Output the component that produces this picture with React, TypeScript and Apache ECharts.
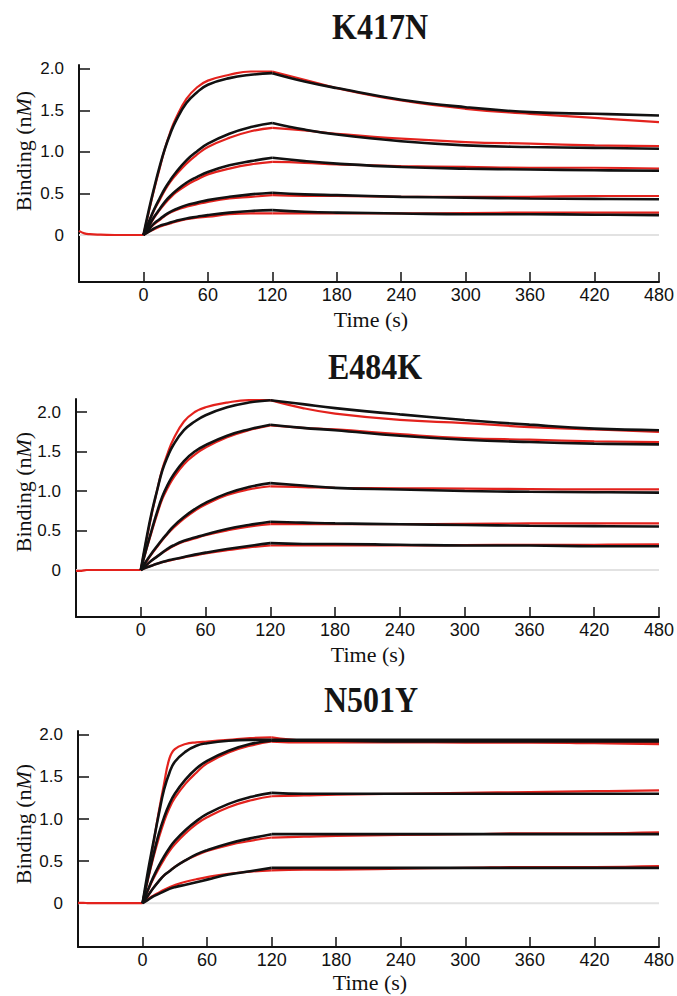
import React, { useEffect, useRef } from "react";
import * as echarts from "echarts";

// ---------- data ----------
const BASE_T = [-60, -55, -50, -40, -20, 0];
const ASSOC_T = [0, 5, 10, 15, 20, 25, 30, 40, 50, 60, 80, 100, 120];
const DISSOC_T = [120, 150, 180, 240, 300, 360, 420, 480];
const Y_TICKS = [0, 0.5, 1.0, 1.5, 2.0];
const X_TICK_STEP = 60;
const TITLES = ["K417N", "E484K", "N501Y"];

// K417N
const K417N_BASE = [0.05, 0.02, 0.01, 0.005, 0, 0];
const K417N_FIT_ASSOC = [
  [0, 0.30, 0.57, 0.82, 1.04, 1.22, 1.37, 1.59, 1.72, 1.81, 1.89, 1.93, 1.95],
  [0, 0.16, 0.31, 0.44, 0.56, 0.66, 0.75, 0.90, 1.01, 1.10, 1.22, 1.30, 1.35],
  [0, 0.11, 0.22, 0.31, 0.40, 0.47, 0.53, 0.63, 0.70, 0.76, 0.84, 0.89, 0.93],
  [0, 0.07, 0.14, 0.19, 0.24, 0.28, 0.31, 0.36, 0.39, 0.42, 0.46, 0.49, 0.51],
  [0, 0.04, 0.08, 0.11, 0.13, 0.15, 0.17, 0.20, 0.22, 0.24, 0.27, 0.29, 0.30],
];
const K417N_DATA_ASSOC = [
  [0, 0.28, 0.55, 0.80, 1.04, 1.24, 1.40, 1.64, 1.78, 1.86, 1.93, 1.97, 1.97],
  [0, 0.15, 0.30, 0.42, 0.54, 0.64, 0.72, 0.86, 0.97, 1.06, 1.17, 1.25, 1.29],
  [0, 0.10, 0.21, 0.30, 0.38, 0.45, 0.51, 0.60, 0.67, 0.73, 0.80, 0.85, 0.88],
  [0, 0.07, 0.13, 0.18, 0.23, 0.27, 0.30, 0.34, 0.37, 0.40, 0.44, 0.46, 0.48],
  [0, 0.04, 0.07, 0.10, 0.12, 0.14, 0.16, 0.19, 0.21, 0.22, 0.25, 0.26, 0.26],
];
const K417N_FIT_DISSOC = [
  [1.95, 1.85, 1.77, 1.63, 1.54, 1.48, 1.46, 1.44],
  [1.35, 1.27, 1.21, 1.13, 1.08, 1.06, 1.05, 1.04],
  [0.93, 0.89, 0.86, 0.82, 0.80, 0.79, 0.78, 0.775],
  [0.51, 0.49, 0.48, 0.46, 0.45, 0.44, 0.435, 0.43],
  [0.30, 0.28, 0.27, 0.26, 0.25, 0.25, 0.245, 0.24],
];
const K417N_DATA_DISSOC = [
  [1.97, 1.87, 1.77, 1.62, 1.52, 1.46, 1.41, 1.36],
  [1.29, 1.26, 1.22, 1.16, 1.12, 1.10, 1.08, 1.07],
  [0.88, 0.87, 0.85, 0.83, 0.82, 0.81, 0.81, 0.80],
  [0.48, 0.47, 0.47, 0.46, 0.46, 0.46, 0.47, 0.47],
  [0.26, 0.26, 0.26, 0.26, 0.265, 0.27, 0.27, 0.27],
];

// E484K
const E484K_BASE = [-0.01, -0.01, 0, 0, 0, 0];
const E484K_FIT_ASSOC = [
  [0, 0.38, 0.72, 1.00, 1.26, 1.44, 1.58, 1.77, 1.88, 1.96, 2.06, 2.12, 2.15],
  [0, 0.26, 0.50, 0.73, 0.93, 1.08, 1.20, 1.38, 1.50, 1.58, 1.70, 1.78, 1.84],
  [0, 0.11, 0.21, 0.30, 0.39, 0.47, 0.55, 0.67, 0.77, 0.85, 0.97, 1.05, 1.10],
  [0, 0.06, 0.12, 0.17, 0.22, 0.27, 0.31, 0.37, 0.41, 0.45, 0.52, 0.57, 0.61],
  [0, 0.03, 0.055, 0.08, 0.10, 0.12, 0.135, 0.165, 0.195, 0.22, 0.265, 0.305, 0.34],
];
const E484K_DATA_ASSOC = [
  [0, 0.36, 0.70, 1.00, 1.28, 1.48, 1.65, 1.88, 2.00, 2.06, 2.12, 2.15, 2.15],
  [0, 0.25, 0.48, 0.70, 0.90, 1.04, 1.16, 1.34, 1.46, 1.55, 1.68, 1.77, 1.83],
  [0, 0.10, 0.20, 0.29, 0.38, 0.46, 0.53, 0.65, 0.75, 0.83, 0.95, 1.02, 1.06],
  [0, 0.06, 0.12, 0.17, 0.22, 0.26, 0.30, 0.36, 0.40, 0.44, 0.50, 0.55, 0.58],
  [0, 0.03, 0.055, 0.08, 0.10, 0.115, 0.13, 0.16, 0.185, 0.21, 0.25, 0.285, 0.31],
];
const E484K_FIT_DISSOC = [
  [2.15, 2.10, 2.05, 1.97, 1.90, 1.84, 1.79, 1.77],
  [1.84, 1.80, 1.77, 1.70, 1.65, 1.62, 1.60, 1.59],
  [1.10, 1.07, 1.04, 1.02, 1.00, 0.99, 0.985, 0.98],
  [0.61, 0.60, 0.59, 0.58, 0.57, 0.56, 0.555, 0.55],
  [0.34, 0.33, 0.33, 0.32, 0.31, 0.31, 0.30, 0.30],
];
const E484K_DATA_DISSOC = [
  [2.15, 2.05, 1.98, 1.90, 1.86, 1.81, 1.78, 1.75],
  [1.83, 1.80, 1.78, 1.72, 1.67, 1.65, 1.63, 1.62],
  [1.06, 1.05, 1.04, 1.035, 1.03, 1.025, 1.02, 1.02],
  [0.58, 0.58, 0.58, 0.58, 0.585, 0.59, 0.59, 0.59],
  [0.31, 0.31, 0.31, 0.31, 0.315, 0.32, 0.32, 0.325],
];

// N501Y
const N501Y_BASE = [0.005, 0.005, 0, 0, 0, 0];
const N501Y_FIT_ASSOC = [
  [0, 0.38, 0.72, 1.05, 1.35, 1.55, 1.68, 1.80, 1.87, 1.90, 1.93, 1.94, 1.94],
  [0, 0.30, 0.57, 0.82, 1.02, 1.18, 1.30, 1.47, 1.60, 1.69, 1.81, 1.89, 1.93],
  [0, 0.16, 0.31, 0.44, 0.555, 0.655, 0.74, 0.87, 0.975, 1.06, 1.18, 1.26, 1.31],
  [0, 0.09, 0.18, 0.26, 0.33, 0.38, 0.43, 0.51, 0.58, 0.63, 0.71, 0.77, 0.82],
  [0, 0.04, 0.08, 0.11, 0.14, 0.17, 0.19, 0.22, 0.25, 0.28, 0.34, 0.38, 0.42],
];
const N501Y_DATA_ASSOC = [
  [0, 0.33, 0.70, 1.08, 1.42, 1.72, 1.83, 1.89, 1.91, 1.92, 1.94, 1.96, 1.97],
  [0, 0.28, 0.54, 0.77, 0.97, 1.13, 1.25, 1.42, 1.55, 1.66, 1.79, 1.87, 1.92],
  [0, 0.15, 0.29, 0.41, 0.52, 0.62, 0.70, 0.83, 0.94, 1.02, 1.14, 1.22, 1.27],
  [0, 0.09, 0.18, 0.26, 0.33, 0.38, 0.43, 0.51, 0.57, 0.62, 0.69, 0.74, 0.78],
  [0, 0.05, 0.09, 0.125, 0.16, 0.19, 0.215, 0.255, 0.285, 0.31, 0.35, 0.375, 0.39],
];
const N501Y_FIT_DISSOC = [
  [1.94, 1.94, 1.94, 1.94, 1.94, 1.94, 1.94, 1.94],
  [1.93, 1.93, 1.93, 1.92, 1.92, 1.92, 1.92, 1.92],
  [1.31, 1.30, 1.30, 1.30, 1.30, 1.30, 1.30, 1.30],
  [0.82, 0.82, 0.82, 0.82, 0.82, 0.82, 0.82, 0.82],
  [0.42, 0.42, 0.42, 0.42, 0.42, 0.42, 0.42, 0.42],
];
const N501Y_DATA_DISSOC = [
  [1.97, 1.93, 1.92, 1.92, 1.91, 1.91, 1.90, 1.89],
  [1.92, 1.91, 1.91, 1.91, 1.91, 1.91, 1.91, 1.91],
  [1.27, 1.28, 1.29, 1.30, 1.31, 1.32, 1.33, 1.34],
  [0.78, 0.79, 0.80, 0.81, 0.82, 0.83, 0.83, 0.84],
  [0.39, 0.40, 0.40, 0.41, 0.42, 0.43, 0.43, 0.44],
];

const PANELS = [
  { base: K417N_BASE, fitA: K417N_FIT_ASSOC, dataA: K417N_DATA_ASSOC, fitD: K417N_FIT_DISSOC, dataD: K417N_DATA_DISSOC },
  { base: E484K_BASE, fitA: E484K_FIT_ASSOC, dataA: E484K_DATA_ASSOC, fitD: E484K_FIT_DISSOC, dataD: E484K_DATA_DISSOC },
  { base: N501Y_BASE, fitA: N501Y_FIT_ASSOC, dataA: N501Y_DATA_ASSOC, fitD: N501Y_FIT_DISSOC, dataD: N501Y_DATA_DISSOC },
];

// ---------- layout (pixels) ----------
const LAYOUT = [
  { left: 79, top: 65, height: 217, yMin: -0.566, yMax: 2.048, titleX: 380, titleY: 27, nameY: 151, timeY: 319 },
  { left: 76, top: 399, height: 218, yMin: -0.595, yMax: 2.165, titleX: 375, titleY: 367, nameY: 492, timeY: 654 },
  { left: 78, top: 731, height: 216, yMin: -0.52, yMax: 2.045, titleX: 371, titleY: 700, nameY: 824, timeY: 982 },
];
const PLOT_W = 584;
const RED = "#e3221d";
const BLACK = "#111111";
const AXIS_COLOR = "#111111";
const SMOOTH = 0.45;

function pairs(ts: number[], vs: number[]) {
  return ts.map((t, i) => [t, vs[i]]);
}

function buildOption() {
  const grid: any[] = [];
  const xAxis: any[] = [];
  const yAxis: any[] = [];
  const series: any[] = [];
  const graphic: any[] = [];

  LAYOUT.forEach((L, i) => {
    const P = PANELS[i];
    grid.push({ left: L.left, top: L.top, width: PLOT_W, height: L.height });
    xAxis.push({
      type: "value",
      gridIndex: i,
      min: -60,
      max: 480,
      interval: X_TICK_STEP,
      axisLine: { show: true, onZero: false, lineStyle: { color: AXIS_COLOR, width: 2 } },
      axisTick: { show: true, inside: true, length: 10, lineStyle: { color: AXIS_COLOR, width: 1.5 } },
      axisLabel: {
        show: true,
        formatter: (v: number) => (v < 0 ? "" : String(v)),
        color: AXIS_COLOR,
        fontSize: 18,
        fontFamily: "Liberation Sans",
        margin: 4,
      },
      splitLine: { show: false },
    });
    yAxis.push({
      type: "value",
      gridIndex: i,
      min: L.yMin,
      max: L.yMax,
      axisLine: { show: true, onZero: false, lineStyle: { color: AXIS_COLOR, width: 2 } },
      axisTick: { show: true, inside: true, length: 11, customValues: Y_TICKS, lineStyle: { color: AXIS_COLOR, width: 1.5 } },
      axisLabel: {
        show: true,
        customValues: Y_TICKS,
        formatter: (v: number) => (v === 0 ? "0" : v.toFixed(1)),
        color: AXIS_COLOR,
        fontSize: 17,
        fontFamily: "Liberation Sans",
        margin: 15,
      },
      splitLine: { show: false },
    });

    const common = { type: "line", xAxisIndex: i, yAxisIndex: i, symbol: "none", silent: true };
    series.push({
      ...common,
      data: [[-60, 0], [480, 0]],
      lineStyle: { color: "#e2e2e2", width: 2 },
    });
    series.push({
      ...common,
      data: pairs(BASE_T, P.base),
      smooth: SMOOTH,
      lineStyle: { color: RED, width: 2.2 },
    });
    P.dataA.forEach((vals) => {
      series.push({ ...common, data: pairs(ASSOC_T, vals), smooth: SMOOTH, lineStyle: { color: RED, width: 2.2 } });
    });
    P.dataD.forEach((vals) => {
      series.push({ ...common, data: pairs(DISSOC_T, vals), smooth: SMOOTH, lineStyle: { color: RED, width: 2.2 } });
    });
    P.fitA.forEach((vals) => {
      series.push({ ...common, data: pairs(ASSOC_T, vals), smooth: SMOOTH, lineStyle: { color: BLACK, width: 2.6 } });
    });
    P.fitD.forEach((vals) => {
      series.push({ ...common, data: pairs(DISSOC_T, vals), smooth: SMOOTH, lineStyle: { color: BLACK, width: 2.6 } });
    });

    graphic.push({
      type: "text",
      x: L.titleX,
      y: L.titleY,
      scaleY: 1.1,
      style: {
        text: TITLES[i],
        font: 'bold 32px "Liberation Serif"',
        fill: "#151515",
        align: "center",
        verticalAlign: "middle",
      },
    });
    graphic.push({
      type: "text",
      x: L.left + PLOT_W / 2,
      y: L.timeY,
      style: {
        text: "Time (s)",
        font: '22px "Liberation Serif"',
        fill: AXIS_COLOR,
        align: "center",
        verticalAlign: "middle",
      },
    });
    graphic.push({
      type: "text",
      x: 23,
      y: L.nameY,
      rotation: Math.PI / 2,
      style: {
        text: "Binding (n{i|M})",
        font: '22px "Liberation Serif"',
        fill: AXIS_COLOR,
        align: "center",
        verticalAlign: "middle",
        rich: {
          i: { fontStyle: "italic", fontFamily: "Liberation Serif", fontSize: 22, fill: AXIS_COLOR },
        },
      },
    });
  });

  return {
    animation: false,
    backgroundColor: "#ffffff",
    grid,
    xAxis,
    yAxis,
    series,
    graphic,
  };
}

export default function App() {
  const ref = useRef<HTMLDivElement>(null);
  useEffect(() => {
    if (!ref.current) return;
    const chart = echarts.init(ref.current, undefined, { renderer: "svg" });
    chart.setOption(buildOption() as any);
    return () => chart.dispose();
  }, []);
  return (
    <div
      ref={ref}
      style={{ position: "fixed", left: 0, top: 0, width: 677, height: 996, background: "#fff" }}
    />
  );
}
